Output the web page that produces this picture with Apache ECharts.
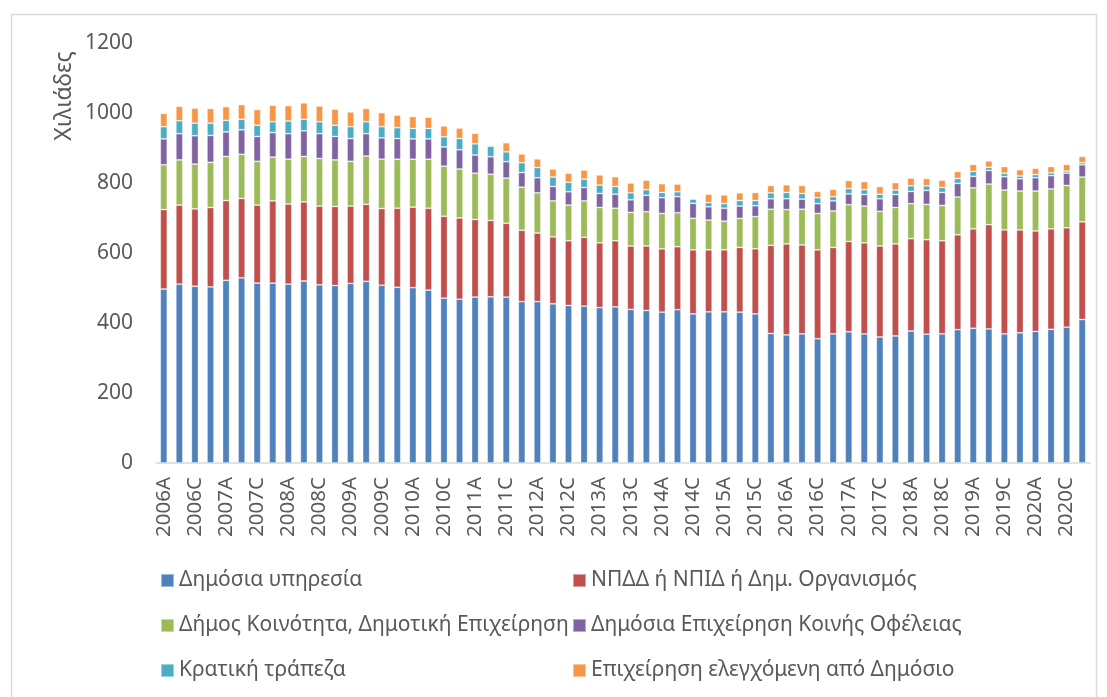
<!DOCTYPE html>
<html>
<head>
<meta charset="utf-8">
<script src="https://cdn.jsdelivr.net/npm/echarts@6/dist/echarts.min.js"></script>
<style>
html,body{margin:0;padding:0;background:#fff;}
#echarts{width:1107px;height:697px;}
</style>
</head>
<body>
<div id="echarts"></div>
<script>
// quarters 2006A .. 2020D
var years = [2006,2007,2008,2009,2010,2011,2012,2013,2014,2015,2016,2017,2018,2019,2020];
var quarters = ['A','B','C','D'];
var categories = [];
years.forEach(function(y){
    quarters.forEach(function(q){ categories.push(y + q); });
});

// thousands
var dimosiaYpiresia = [497,511,505,503,522,529,514,514,511,520,509,507,
    513,519,508,502,501,494,471,468,474,475,474,461,
    461,455,450,448,444,446,439,436,431,438,426,432,
    432,431,426,370,366,369,355,369,375,369,360,363,
    377,368,369,381,385,383,369,372,376,382,388,410];
var npdd = [227,226,221,227,228,227,223,235,229,226,225,226,
    221,220,219,226,230,234,234,232,222,218,211,204,
    196,191,185,197,185,189,181,184,181,180,183,177,
    177,185,186,252,260,254,254,247,258,260,260,263,
    264,270,266,271,284,298,297,294,287,287,284,279];
var dimos = [128,129,128,129,126,126,125,125,128,130,136,133,
    128,138,141,140,137,140,143,140,132,132,129,123,
    115,103,102,104,101,93,96,98,101,97,90,85,
    82,83,92,103,98,102,104,104,105,105,99,104,
    100,101,101,108,117,116,114,111,114,114,121,128];
var dekoOfeleias = [74,75,81,77,70,70,71,70,73,73,71,67,
    65,64,61,59,58,58,55,55,52,50,47,42,
    43,41,38,38,40,40,36,47,45,46,43,38,
    37,35,31,30,31,29,28,29,31,33,36,37,
    35,40,37,39,33,39,38,35,38,38,35,35];
var kratikiTrapeza = [35,37,36,35,33,30,32,31,36,33,34,32,
    34,34,32,31,30,30,29,32,32,30,28,28,
    29,27,27,24,24,22,20,16,15,14,12,12,
    13,16,15,17,18,16,17,12,15,14,13,13,
    16,13,14,14,14,9,10,8,9,8,6,6];
var elegxomeni = [38,41,43,42,39,42,45,47,44,47,45,46,
    42,38,40,36,34,32,31,30,30,3,26,25,
    25,23,26,26,29,28,28,27,25,22,2,24,
    25,22,23,21,22,23,18,21,23,23,22,21,
    22,21,21,20,20,18,19,18,18,18,19,18];

var seriesNames = ['Δημόσια υπηρεσία','ΝΠΔΔ ή ΝΠΙΔ ή Δημ. Οργανισμός',
    'Δήμος Κοινότητα, Δημοτική Επιχείρηση','Δημόσια Επιχείρηση Κοινής Οφέλειας',
    'Κρατική τράπεζα','Επιχείρηση ελεγχόμενη από Δημόσιο'];
var seriesData = [dimosiaYpiresia, npdd, dimos, dekoOfeleias, kratikiTrapeza, elegxomeni];
var colors = ['#4F81BD','#C0504D','#9BBB59','#8064A2','#4BACC6','#F79646'];

var textColor = '#595959';
var font = 'Noto Sans';

var series = seriesData.map(function(d, i){
    return {
        name: seriesNames[i],
        type: 'bar',
        stack: 'total',
        barWidth: 7,
        data: d,
        itemStyle: {color: colors[i], borderColor: 'rgba(255,255,255,0.45)', borderWidth: 0.8},
        emphasis: {disabled: true}
    };
});

function legendFor(idx, left){
    return {
        orient: 'vertical',
        left: left,
        top: 565,
        itemWidth: 13,
        itemHeight: 13,
        itemGap: 24,
        icon: 'rect',
        data: idx.map(function(i){ return seriesNames[i]; }),
        textStyle: {color: textColor, fontSize: 21, fontFamily: font, padding: [0,0,0,0]}
    };
}

var option = {
    animation: false,
    color: colors,
    textStyle: {fontFamily: font},
    grid: {left: 156, right: 17, top: 43, bottom: 234, containLabel: false},
    legend: [legendFor([0,2,4], 155), legendFor([1,3,5], 567)],
    graphic: [
        {
            type: 'rect',
            shape: {x: 11.5, y: 14.5, width: 1085, height: 700},
            style: {fill: 'none', stroke: '#d9d9d9', lineWidth: 1.5},
            silent: true
        },
        {
            type: 'text',
            x: 64,
            y: 96,
            rotation: Math.PI / 2,
            style: {text: 'Χιλιάδες', fill: textColor, fontSize: 23, fontFamily: font,
                    align: 'center', verticalAlign: 'middle'}
        }
    ],
    xAxis: {
        type: 'category',
        data: categories,
        axisLine: {lineStyle: {color: '#d9d9d9', width: 1.5}},
        axisTick: {show: false},
        axisLabel: {rotate: 90, interval: 1, margin: 14, color: textColor, fontSize: 20.5, fontFamily: font}
    },
    yAxis: {
        type: 'value',
        min: 0,
        max: 1200,
        interval: 200,
        splitLine: {show: false},
        axisLine: {show: false},
        axisTick: {show: false},
        axisLabel: {margin: 23, color: textColor, fontSize: 21, fontFamily: font,
                    formatter: function(v){ return String(v); }}
    },
    series: series
};

var myChart = echarts.init(document.getElementById('echarts'));
myChart.setOption(option);
</script>
</body>
</html>
